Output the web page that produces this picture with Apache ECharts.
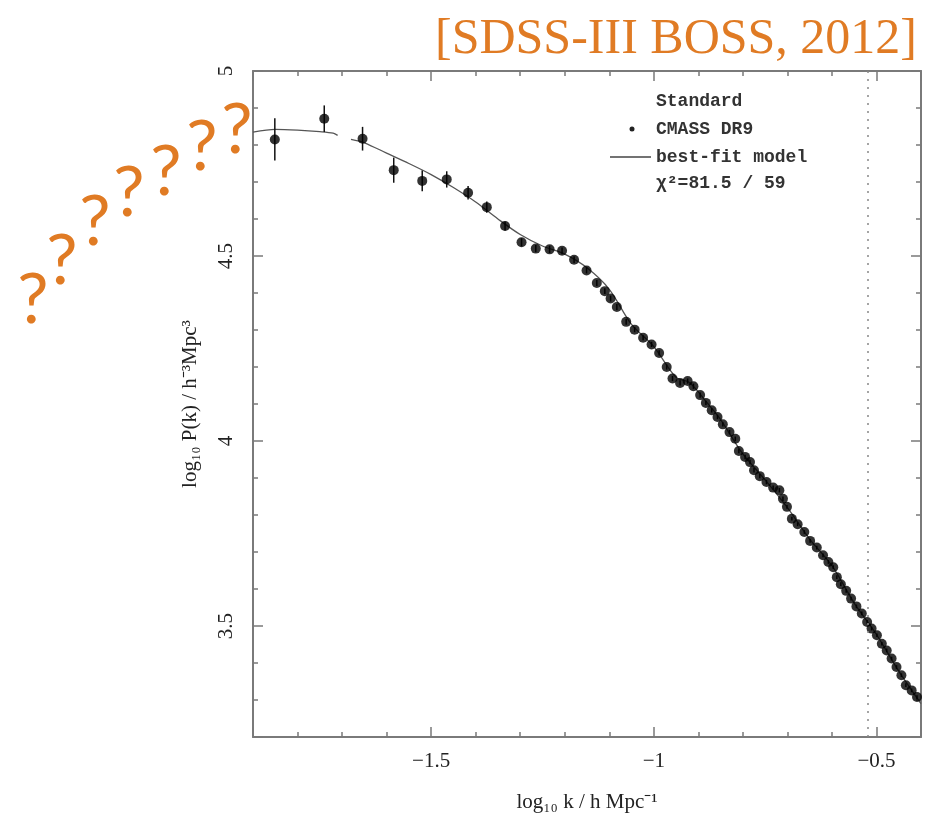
<!DOCTYPE html>
<html>
<head>
<meta charset="utf-8">
<script src="https://cdn.jsdelivr.net/npm/echarts@6/dist/echarts.min.js"></script>
<style>
  html, body { margin: 0; padding: 0; background: #fff; }
  #chart { width: 925px; height: 824px; }
</style>
</head>
<body>
<div id="chart"></div>
<script>
// CMASS DR9 points: log10 k, log10 P(k), 1-sigma error
const kData = [-1.851, -1.740, -1.654, -1.584, -1.520, -1.465, -1.417, -1.375, -1.334, -1.297,
  -1.265, -1.234, -1.206, -1.179, -1.151, -1.128, -1.110, -1.097, -1.083, -1.062,
  -1.043, -1.024, -1.005, -0.988, -0.971, -0.958, -0.941, -0.924, -0.911, -0.896,
  -0.883, -0.870, -0.857, -0.845, -0.830, -0.817, -0.809, -0.795, -0.784, -0.775,
  -0.762, -0.747, -0.732, -0.718, -0.710, -0.701, -0.690, -0.677, -0.662, -0.649,
  -0.634, -0.620, -0.608, -0.597, -0.589, -0.580, -0.568, -0.557, -0.545, -0.533,
  -0.521, -0.511, -0.499, -0.488, -0.477, -0.466, -0.455, -0.444, -0.434, -0.421, -0.409]
const pData = [4.815, 4.871, 4.817, 4.732, 4.703, 4.707, 4.671, 4.632, 4.581, 4.537,
  4.520, 4.518, 4.514, 4.490, 4.461, 4.427, 4.405, 4.385, 4.362, 4.322,
  4.301, 4.279, 4.261, 4.238, 4.200, 4.169, 4.157, 4.162, 4.148, 4.124,
  4.103, 4.083, 4.065, 4.045, 4.024, 4.006, 3.973, 3.957, 3.943, 3.921,
  3.905, 3.889, 3.874, 3.867, 3.844, 3.822, 3.790, 3.775, 3.754, 3.730,
  3.712, 3.691, 3.673, 3.659, 3.632, 3.613, 3.595, 3.574, 3.553, 3.534,
  3.511, 3.493, 3.475, 3.452, 3.434, 3.412, 3.389, 3.367, 3.340, 3.326, 3.308]
const pErr = [0.057, 0.036, 0.032, 0.034, 0.028, 0.022, 0.018, 0.015, 0.012, 0.011,
  0.010, 0.010, 0.009, 0.009, 0.008, 0.008, 0.008, 0.008, 0.008, 0.008,
  0.007, 0.007, 0.007, 0.007, 0.007, 0.007, 0.007, 0.007, 0.007, 0.007,
  0.006, 0.006, 0.006, 0.006, 0.006, 0.006, 0.006, 0.006, 0.006, 0.006,
  0.006, 0.006, 0.006, 0.006, 0.006, 0.005, 0.005, 0.005, 0.005, 0.005,
  0.005, 0.005, 0.005, 0.005, 0.005, 0.005, 0.005, 0.005, 0.005, 0.005,
  0.005, 0.005, 0.005, 0.005, 0.005, 0.005, 0.005, 0.005, 0.005, 0.005, 0.005]

// best-fit model curve ('-' leaves the small gap seen in the plot)
const modelK = [-1.90, -1.85, -1.80, -1.75, -1.72, -1.71, -1.70, -1.68, -1.65, -1.60,
  -1.55, -1.50, -1.45, -1.40, -1.35, -1.30, -1.25, -1.20, -1.15, -1.10,
  -1.05, -1.00, -0.95, -0.92, -0.88, -0.85, -0.80, -0.75, -0.70, -0.65,
  -0.60, -0.55, -0.50, -0.45, -0.40]
const modelP = [4.835, 4.842, 4.840, 4.836, 4.832, 4.826, '-', 4.815, 4.806, 4.778,
  4.750, 4.720, 4.685, 4.646, 4.600, 4.558, 4.527, 4.505, 4.468, 4.410,
  4.315, 4.255, 4.172, 4.158, 4.103, 4.058, 3.965, 3.895, 3.820, 3.735,
  3.663, 3.562, 3.477, 3.378, 3.290]

const kMax = -0.523 // k = 0.3 h/Mpc
const xRange = [-1.9, -0.4]
const yRange = [3.2, 5]

const legendLines = ['Standard', 'CMASS DR9', 'best-fit model', 'χ²=81.5 / 59']
const titleText = '[SDSS-III BOSS, 2012]'

const chart = echarts.init(document.getElementById('chart'))

const serif = 'Liberation Serif'
const mono = 'Liberation Mono'
const orange = '#e07b24'
const frame = '#7a7a7a'

const minus = (v) => (v < 0 ? '\u2212' + Math.abs(v) : String(v))

const tickCommon = {
  axisLine: { show: true, lineStyle: { color: frame, width: 2 } },
  axisTick: { show: true, inside: true, length: 10, lineStyle: { color: frame, width: 1.5 } },
  minorTick: { show: true, splitNumber: 5, length: 5, lineStyle: { color: frame, width: 1.5 } },
  splitLine: { show: false },
  minorSplitLine: { show: false },
}

const errData = kData.map((k, i) => [k, pData[i] - pErr[i], pData[i] + pErr[i]])
const pointData = kData.map((k, i) => [k, pData[i]])
const modelData = modelK.map((k, i) => [k, modelP[i]])

const qMarks = [[33, 300], [62, 261], [95, 222], [129, 193], [166, 172], [202, 147], [237, 130]]

chart.setOption({
  animation: false,
  grid: { left: 253, right: 4, top: 71, bottom: 87 },
  xAxis: [{
    type: 'value',
    min: xRange[0],
    max: xRange[1],
    splitNumber: 3,
    ...tickCommon,
    axisLabel: {
      margin: 14,
      showMinLabel: false,
      showMaxLabel: false,
      fontFamily: serif,
      fontSize: 21,
      color: '#222',
      formatter: minus,
    },
    name: 'log₁₀ k / h Mpc⁻¹',
    nameLocation: 'middle',
    nameGap: 55,
    nameTextStyle: { fontFamily: serif, fontSize: 21, color: '#222' },
  }, {
    type: 'value',
    position: 'top',
    min: xRange[0],
    max: xRange[1],
    splitNumber: 3,
    ...tickCommon,
    axisLabel: { show: false },
  }],
  yAxis: [{
    type: 'value',
    min: yRange[0],
    max: yRange[1],
    splitNumber: 4,
    ...tickCommon,
    axisLabel: {
      rotate: 90,
      margin: 16,
      showMinLabel: false,
      fontFamily: serif,
      fontSize: 21,
      color: '#222',
    },
    name: 'log₁₀ P(k) / h⁻³Mpc³',
    nameLocation: 'middle',
    nameRotate: 90,
    nameGap: 52,
    nameTextStyle: { fontFamily: serif, fontSize: 21, color: '#222' },
  }, {
    type: 'value',
    position: 'right',
    min: yRange[0],
    max: yRange[1],
    splitNumber: 4,
    ...tickCommon,
    axisLabel: { show: false },
  }],
  series: [{
    name: 'best-fit model',
    type: 'line',
    data: modelData,
    smooth: 0.3,
    showSymbol: false,
    connectNulls: false,
    lineStyle: { color: '#555', width: 1.3 },
    z: 2,
    markLine: {
      silent: true,
      symbol: 'none',
      label: { show: false },
      lineStyle: { color: '#888', type: [2, 6], width: 1.5 },
      data: [{ xAxis: kMax }],
    },
  }, {
    name: 'errors',
    type: 'custom',
    data: errData,
    renderItem: (params, api) => {
      const top = api.coord([api.value(0), api.value(2)])
      const bot = api.coord([api.value(0), api.value(1)])
      return {
        type: 'line',
        shape: { x1: top[0], y1: top[1], x2: bot[0], y2: bot[1] },
        style: { stroke: '#111', lineWidth: 1.5 },
      }
    },
    z: 3,
  }, {
    name: 'CMASS DR9',
    type: 'scatter',
    data: pointData,
    symbolSize: 10,
    itemStyle: { color: '#000' },
    z: 4,
  }],
  graphic: [
    {
      type: 'text', right: 8, top: 15,
      style: { text: titleText, fontFamily: serif, fontSize: 50, fill: orange },
    },
    ...qMarks.map(([x, y]) => ({
      type: 'text', x, y,
      style: { text: '?', fontFamily: 'Lato', fontSize: 70, fill: orange, align: 'center', verticalAlign: 'middle' },
    })),
    {
      type: 'text', x: 656, y: 101,
      style: { text: legendLines[0], fontFamily: mono, fontWeight: 'bold', fontSize: 18, fill: '#333', verticalAlign: 'middle' },
    },
    {
      type: 'circle', shape: { cx: 632, cy: 129, r: 2.5 }, style: { fill: '#222' },
    },
    {
      type: 'text', x: 656, y: 129,
      style: { text: legendLines[1], fontFamily: mono, fontWeight: 'bold', fontSize: 18, fill: '#333', verticalAlign: 'middle' },
    },
    {
      type: 'line', shape: { x1: 610, y1: 157, x2: 651, y2: 157 }, style: { stroke: '#444', lineWidth: 1.5 },
    },
    {
      type: 'text', x: 656, y: 157,
      style: { text: legendLines[2], fontFamily: mono, fontWeight: 'bold', fontSize: 18, fill: '#333', verticalAlign: 'middle' },
    },
    {
      type: 'text', x: 656, y: 183,
      style: { text: legendLines[3], fontFamily: mono, fontWeight: 'bold', fontSize: 18, fill: '#333', verticalAlign: 'middle' },
    },
  ],
})
</script>
</body>
</html>
